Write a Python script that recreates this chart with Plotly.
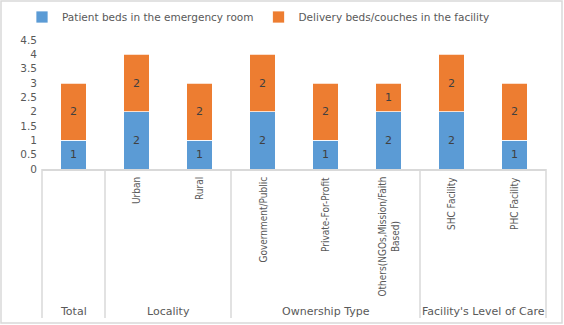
import plotly.graph_objects as go

# ---- data ----
categories = ["Total", "Urban", "Rural", "Government/Public", "Private-For-Profit",
              "Others(NGOs,Mission/Faith Based)", "SHC Facility", "PHC Facility"]
tick_labels = ["", "Urban", "Rural", "Government/Public", "Private-For-Profit",
               "Others(NGOs,Mission/Faith<br>Based)", "SHC Facility", "PHC Facility"]
groups = ["Total", "Locality", "Locality", "Ownership Type", "Ownership Type",
          "Ownership Type", "Facility's Level of Care", "Facility's Level of Care"]
patient_beds = [1, 2, 1, 2, 1, 2, 2, 1]
delivery_beds = [2, 2, 2, 2, 2, 1, 2, 2]
series_names = ["Patient beds in the emergency room", "Delivery beds/couches in the facility"]

# ---- layout constants (pixels) ----
W, H = 564, 325
L, R, T, B = 42, 18, 40, 156
PW, PH = W - L - R, H - T - B


def px_x(X):
    return (X - L) / PW


def px_y(Y):
    return (H - B - Y) / PH


BLUE = "#5B9BD5"
ORANGE = "#ED7D31"
GRAY = "#595959"
LINE = "#D9D9D9"
FONT = "DejaVu Sans"

idx = list(range(len(categories)))

fig = go.Figure()
for name, vals, col in [(series_names[0], patient_beds, BLUE),
                        (series_names[1], delivery_beds, ORANGE)]:
    fig.add_trace(go.Bar(
        x=idx, y=vals, name=name,
        marker=dict(color=col, line=dict(color="white", width=0.75)),
        text=[str(v) for v in vals], textposition="inside",
        insidetextanchor="middle",
        textfont=dict(family=FONT, size=11, color="#404040"),
        hoverinfo="skip",
    ))

shapes = []
# outer frame
shapes.append(dict(type="rect", xref="paper", yref="paper",
                   x0=px_x(1), x1=px_x(W - 2), y0=px_y(1), y1=px_y(H - 2),
                   line=dict(color=LINE, width=1.5), layer="below"))

# group boundaries
n = len(categories)
bounds = [-0.5]
for i in range(1, n):
    if groups[i] != groups[i - 1]:
        bounds.append(i - 0.5)
bounds.append(n - 0.5)
for b in bounds:
    xp = (b + 0.5) / n
    shapes.append(dict(type="line", xref="paper", yref="paper",
                       x0=xp, x1=xp, y0=0, y1=px_y(318),
                       line=dict(color=LINE, width=1.5)))

annotations = []
# rotated category labels
for i, lab in enumerate(tick_labels):
    if not lab:
        continue
    annotations.append(dict(
        x=i, xref="x", y=px_y(175), yref="paper", text=lab, showarrow=False,
        textangle=-90, xanchor="center", yanchor="top", align="center",
        font=dict(family="DejaVu Sans Condensed, Liberation Sans", size=10, color=GRAY),
    ))

# group labels
seen = []
for g in groups:
    if g not in seen:
        seen.append(g)
for g in seen:
    pos = [i for i, gg in enumerate(groups) if gg == g]
    annotations.append(dict(
        x=sum(pos) / len(pos), xref="x", y=px_y(311), yref="paper", text=g,
        showarrow=False, xanchor="center", yanchor="middle",
        font=dict(family=FONT, size=11, color=GRAY),
    ))

fig.update_layout(
    width=W, height=H,
    margin=dict(l=L, r=R, t=T, b=B, pad=0, autoexpand=False),
    barmode="stack", bargap=0.6,
    plot_bgcolor="white", paper_bgcolor="white",
    showlegend=True,
    legend=dict(orientation="h", xref="container", yref="container",
                x=22 / W, xanchor="left", y=1 - 17 / H, yanchor="middle",
                font=dict(family=FONT, size=10.5, color=GRAY), itemwidth=30,
                itemclick=False, traceorder="normal", bgcolor="rgba(0,0,0,0)"),
    xaxis=dict(type="linear", range=[-0.5, n - 0.5], showticklabels=False, showgrid=False,
               zeroline=False, showline=True, linecolor=LINE, linewidth=1.5, ticks=""),
    yaxis=dict(range=[0, 4.5], dtick=0.5, showgrid=False, zeroline=False, showline=False,
               ticks="", tickfont=dict(family=FONT, size=10.5, color=GRAY),
               ticklabelstandoff=4),
    shapes=shapes, annotations=annotations,
)

fig.write_html("out.html")
